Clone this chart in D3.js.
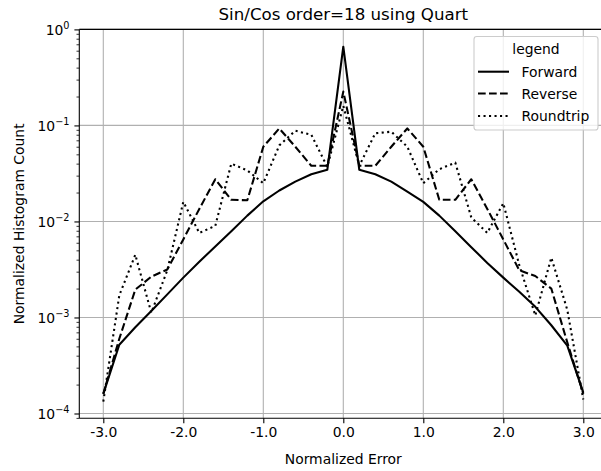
<!DOCTYPE html>
<html>
<head>
<meta charset="utf-8">
<script src="https://cdn.jsdelivr.net/npm/d3@7"></script>
<style>
  html, body { margin: 0; padding: 0; background: #fff; }
  svg { display: block; font-family: "DejaVu Sans", sans-serif; }
</style>
</head>
<body>
<svg id="chart" width="601" height="471"></svg>
<script>
// ---- data ----
const xValues = [-3.0, -2.8, -2.6, -2.4, -2.2, -2.0, -1.8, -1.6, -1.4, -1.2, -1.0, -0.8, -0.6, -0.4, -0.2,
                 0.0, 0.2, 0.4, 0.6, 0.8, 1.0, 1.2, 1.4, 1.6, 1.8, 2.0, 2.2, 2.4, 2.6, 2.8, 3.0];
const forward = [1.6e-4, 5.2e-4, 7.9e-4, 1.17e-3, 1.74e-3, 2.6e-3, 3.8e-3, 5.5e-3, 7.9e-3, 1.15e-2, 1.62e-2, 2.1e-2, 2.6e-2, 3.1e-2, 3.45e-2,
                 0.66, 3.45e-2, 3.1e-2, 2.6e-2, 2.05e-2, 1.6e-2, 1.15e-2, 7.9e-3, 5.4e-3, 3.7e-3, 2.6e-3, 1.85e-3, 1.29e-3, 8.3e-4, 5.1e-4, 1.65e-4];
const reverse = [1.6e-4, 6.0e-4, 1.95e-3, 2.66e-3, 3.16e-3, 6.5e-3, 1.35e-2, 2.75e-2, 1.68e-2, 1.66e-2, 6.0e-2, 9.3e-2, 6.0e-2, 3.8e-2, 3.8e-2,
                 0.225, 3.8e-2, 3.8e-2, 6.0e-2, 9.3e-2, 6.0e-2, 1.68e-2, 1.68e-2, 2.75e-2, 1.35e-2, 6.5e-3, 3.1e-3, 2.7e-3, 2.0e-3, 5.5e-4, 1.6e-4];
const roundtrip = [1.33e-4, 1.7e-3, 4.5e-3, 1.12e-3, 3.1e-3, 1.6e-2, 7.6e-3, 9.0e-3, 4.0e-2, 3.4e-2, 2.5e-2, 6.2e-2, 8.8e-2, 8.0e-2, 3.7e-2,
                   0.16, 3.8e-2, 8.3e-2, 8.6e-2, 6.0e-2, 2.5e-2, 3.5e-2, 4.1e-2, 1.1e-2, 7.6e-3, 1.55e-2, 3.5e-3, 1.05e-3, 4.2e-3, 1.2e-3, 1.4e-4];
const seriesNames = ["Forward", "Reverse", "Roundtrip"];
const xTickValues = [-3, -2, -1, 0, 1, 2, 3];
const xTickLabels = ["-3.0", "-2.0", "-1.0", "0.0", "1.0", "2.0", "3.0"];
const yTickValues = [1e-4, 1e-3, 1e-2, 1e-1, 1e0];
const yTickExponents = ["\u22124", "\u22123", "\u22122", "\u22121", "0"];
const titleText = "Sin/Cos order=18 using Quart";
const xLabelText = "Normalized Error";
const yLabelText = "Normalized Histogram Count";
const legendTitle = "legend";

// ---- layout ----
const svg = d3.select("#chart");
const pLeft = 79.3, pRight = 607.3, pTop = 29.4, pBottom = 418.3;
const fs = 13.9;

const x = d3.scaleLinear().domain([-3.3, 3.3]).range([pLeft, pRight]);
const y = d3.scaleLog().domain([Math.pow(10, -4.05), Math.pow(10, 0.0)]).range([pBottom, pTop]);

// grid
const grid = svg.append("g");
grid.selectAll("line.vx").data(xTickValues).join("line")
  .attr("x1", d => x(d)).attr("x2", d => x(d)).attr("y1", pTop).attr("y2", pBottom)
  .attr("stroke", "#b0b0b0").attr("stroke-width", 1.1);
grid.selectAll("line.hy").data(yTickValues).join("line")
  .attr("x1", pLeft).attr("x2", pRight).attr("y1", d => y(d)).attr("y2", d => y(d))
  .attr("stroke", "#b0b0b0").attr("stroke-width", 1.1);

// lines
const styles = [
  { data: forward, dash: null },
  { data: reverse, dash: "7.7,3.3" },
  { data: roundtrip, dash: "2.1,3.4" }
];
const lineGen = d3.line().x(d => x(d[0])).y(d => y(d[1]));
const plot = svg.append("g");
styles.forEach(s => {
  const pts = xValues.map((xv, i) => [xv, s.data[i]]);
  plot.append("path").attr("d", lineGen(pts))
    .attr("fill", "none").attr("stroke", "#000").attr("stroke-width", 2.08)
    .attr("stroke-dasharray", s.dash).attr("stroke-linejoin", "round");
});

// axes
const xAxis = d3.axisBottom(x).tickValues(xTickValues)
  .tickFormat((d, i) => xTickLabels[i]).tickSize(4.9).tickPadding(4.2).tickSizeOuter(0);
const gx = svg.append("g").attr("transform", `translate(0,${pBottom})`).call(xAxis);
gx.select(".domain").remove();
gx.selectAll("line").attr("stroke", "#000").attr("stroke-width", 1.1);
gx.selectAll("text").attr("font-size", fs).attr("fill", "#000").attr("font-family", "DejaVu Sans");

// y minor ticks
const minor = [];
for (let e = -5; e <= 0; e++) for (let m = 2; m <= 9; m++) {
  const v = m * Math.pow(10, e);
  if (v >= y.domain()[0] && v <= y.domain()[1]) minor.push(v);
}
const yAxisMinor = d3.axisLeft(y).tickValues(minor).tickFormat("").tickSize(2.8).tickSizeOuter(0);
const gym = svg.append("g").attr("transform", `translate(${pLeft},0)`).call(yAxisMinor);
gym.select(".domain").remove();
gym.selectAll("line").attr("stroke", "#000").attr("stroke-width", 0.8);

const yAxis = d3.axisLeft(y).tickValues(yTickValues).tickFormat("").tickSize(4.9).tickSizeOuter(0);
const gy = svg.append("g").attr("transform", `translate(${pLeft},0)`).call(yAxis);
gy.select(".domain").remove();
gy.selectAll("line").attr("stroke", "#000").attr("stroke-width", 1.1);
gy.selectAll(".tick").each(function(d, i) {
  const t = d3.select(this).append("text")
    .attr("x", -9.8).attr("y", 5).attr("text-anchor", "end")
    .attr("font-size", fs).attr("fill", "#000").attr("font-family", "DejaVu Sans");
  t.append("tspan").text("10");
  t.append("tspan").attr("dy", -6).attr("font-size", fs * 0.7).text(yTickExponents[i]);
});

// spines (left, bottom, top)
svg.append("line").attr("x1", pLeft).attr("x2", pLeft).attr("y1", pTop).attr("y2", pBottom)
  .attr("stroke", "#000").attr("stroke-width", 1.1);
svg.append("line").attr("x1", pLeft).attr("x2", pRight).attr("y1", pBottom).attr("y2", pBottom)
  .attr("stroke", "#000").attr("stroke-width", 1.1);
svg.append("line").attr("x1", pLeft).attr("x2", pRight).attr("y1", pTop).attr("y2", pTop)
  .attr("stroke", "#000").attr("stroke-width", 1.1);

// title & labels
svg.append("text").attr("x", (pLeft + pRight) / 2).attr("y", 20).attr("text-anchor", "middle")
  .attr("font-size", 16.67).attr("fill", "#000").text(titleText);
svg.append("text").attr("x", (pLeft + pRight) / 2).attr("y", 464).attr("text-anchor", "middle")
  .attr("font-size", fs).attr("fill", "#000").text(xLabelText);
svg.append("text").attr("transform", `translate(23.5,${(pTop + pBottom) / 2}) rotate(-90)`)
  .attr("text-anchor", "middle").attr("font-size", fs).attr("fill", "#000").text(yLabelText);

// legend
const lg = svg.append("g");
lg.append("rect").attr("x", 474).attr("y", 36.5).attr("width", 124).attr("height", 93.5)
  .attr("rx", 2.8).attr("fill", "#fff").attr("fill-opacity", 0.8)
  .attr("stroke", "#cccccc").attr("stroke-width", 1.1);
lg.append("text").attr("x", 536).attr("y", 54).attr("text-anchor", "middle")
  .attr("font-size", fs).attr("fill", "#000").text(legendTitle);
const legendY = [71.7, 93.5, 116];
seriesNames.forEach((name, i) => {
  lg.append("line").attr("x1", 478).attr("x2", 509).attr("y1", legendY[i]).attr("y2", legendY[i])
    .attr("stroke", "#000").attr("stroke-width", 2.08).attr("stroke-dasharray", styles[i].dash);
  lg.append("text").attr("x", 521.5).attr("y", legendY[i] + 5).attr("font-size", fs)
    .attr("fill", "#000").text(name);
});
</script>
</body>
</html>
